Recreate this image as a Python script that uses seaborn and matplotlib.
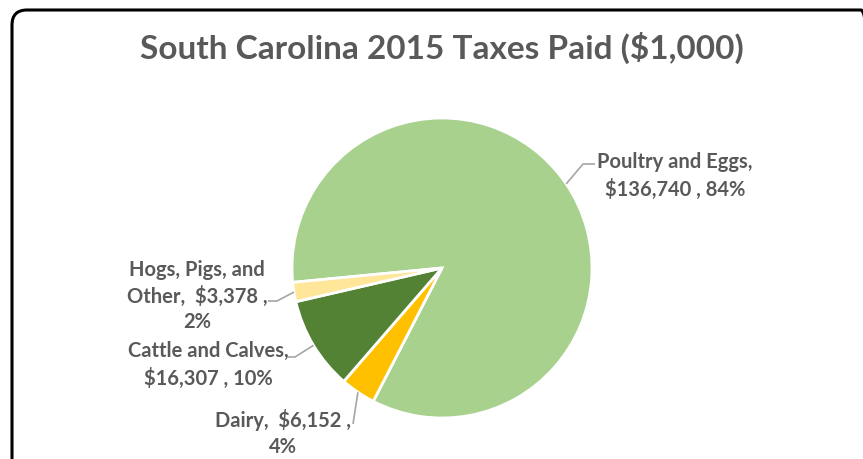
"""
South Carolina 2015 taxes paid by commodity, drawn as a labelled pie chart.
"""
import numpy as np
import matplotlib.pyplot as plt
from matplotlib.patches import FancyBboxPatch
import seaborn as sns

# Data (in $1,000), clockwise from the Poultry slice
categories = ["Poultry and Eggs", "Dairy", "Cattle and Calves", "Hogs, Pigs, and Other"]
taxes_paid = [136740, 6152, 16307, 3378]
label_texts = [
    "Poultry and Eggs,\n$136,740 , 84%",
    "Dairy,  $6,152 ,\n4%",
    "Cattle and Calves,\n$16,307 , 10%",
    "Hogs, Pigs, and\nOther,  $3,378 ,\n2%",
]
slice_colors = ["#A9D18E", "#FFC000", "#548235", "#FFE699"]

TITLE = "South Carolina 2015 Taxes Paid ($1,000)"
TEXT_COLOR = "#595959"
LINE_COLOR = "#A6A6A6"

W, H = 863, 459


def main():
    sns.set_theme(style="white")
    plt.rcParams['font.family'] = ['Lato', 'DejaVu Sans']

    fig = plt.figure(figsize=(W / 100, H / 100), dpi=100)
    # one axes in pixel units, y pointing up
    ax = fig.add_axes([0, 0, 1, 1])

    cx, cy, r = 442, H - 268, 150
    start = 185.5
    wedges, _ = ax.pie(
        taxes_paid,
        colors=slice_colors,
        startangle=start,
        counterclock=False,
        center=(cx, cy),
        radius=r,
        wedgeprops={"linewidth": 2, "edgecolor": "white"},
    )
    ax.set_xlim(0, W)
    ax.set_ylim(0, H)
    ax.set_axis_off()

    # label layout (screen px): text centre, elbow points of the leader line
    label_pos = [(675, 176), (283, 433), (208, 365), (197, 296)]
    elbows = [
        [(583, 164), (595, 164)],
        [(353, 424)],
        [(295, 357), (288, 357)],
        [(277, 301), (268, 301)],
    ]

    for w, txt, pos, elb in zip(wedges, label_texts, label_pos, elbows):
        mid = np.deg2rad((w.theta1 + w.theta2) / 2)
        ex, ey = cx + r * np.cos(mid), cy + r * np.sin(mid)
        xs = [ex] + [p[0] for p in elb]
        ys = [ey] + [H - p[1] for p in elb]
        ax.plot(xs, ys, color=LINE_COLOR, lw=1.2, solid_capstyle="butt")
        ax.text(pos[0], H - pos[1], txt, ha="center", va="center",
                fontsize=14.5, fontweight="bold", color=TEXT_COLOR,
                linespacing=1.36)

    ax.text(442, H - 48, TITLE, ha="center", va="center",
            fontsize=24, fontweight="bold", color=TEXT_COLOR)

    # rounded chart border (partly cut off at right and bottom)
    border = FancyBboxPatch((12, -20), 862 - 12 + 14, H - 10 + 20,
                            boxstyle="round,pad=0,rounding_size=15",
                            fill=False, edgecolor="black", lw=2.2,
                            clip_on=False)
    ax.add_patch(border)

    fig.savefig("out.png", dpi=100, facecolor="white")


if __name__ == "__main__":
    main()
